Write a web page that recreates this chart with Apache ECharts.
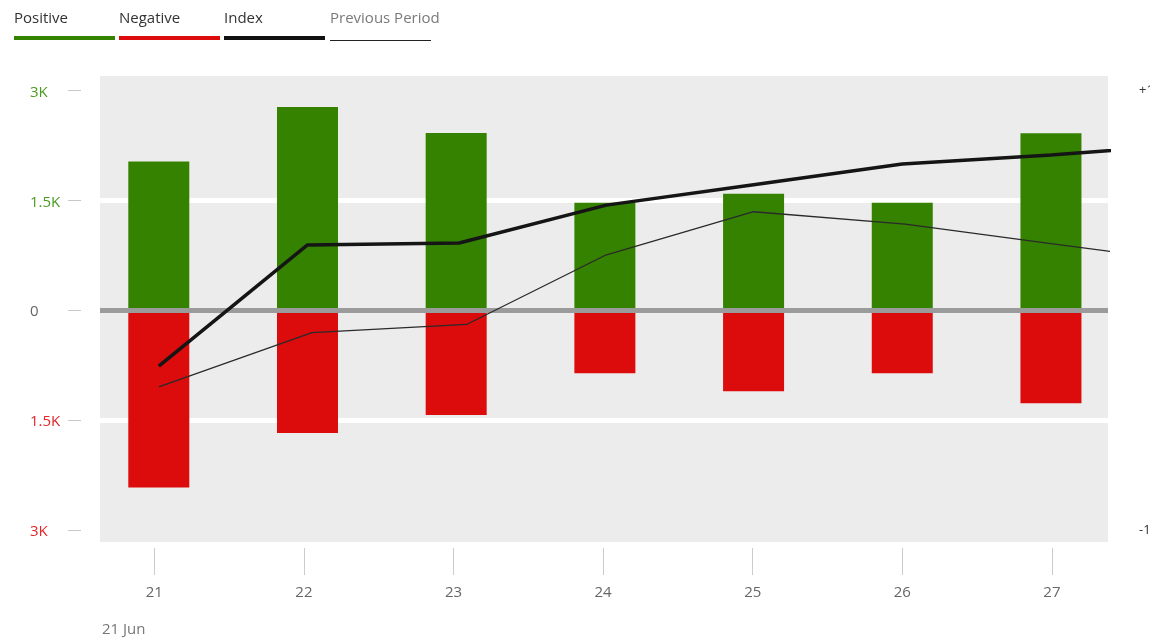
<!DOCTYPE html>
<html>
<head>
<meta charset="utf-8">
<script src="https://cdn.jsdelivr.net/npm/echarts@6/dist/echarts.min.js"></script>
<style>
html,body{margin:0;padding:0;background:#fff;}
#chart{width:1150px;height:638px;}
</style>
</head>
<body>
<div id="chart"></div>
<script>
// ---- data ----
const days = [21, 22, 23, 24, 25, 26, 27];
const dayLabels = ['21', '22', '23', '24', '25', '26', '27'];
const periodLabel = '21 Jun';
const positive = [2031, 2773, 2418, 1466, 1589, 1466, 2414];
const negative = [-2422, -1676, -1430, -861, -1106, -861, -1270];
const indexDays = [21, 22, 23.02, 24.01, 25, 26, 27, 28];
const indexValues = [-0.255, 0.297, 0.306, 0.478, 0.571, 0.665, 0.706, 0.757];
const prevDays = [21, 22.03, 23.07, 24, 25, 26.02, 27, 28];
const prevValues = [-0.349, -0.102, -0.065, 0.249, 0.448, 0.392, 0.303, 0.214];
const leftTicks = [-3000, -1500, 0, 1500, 3000];
const rightTicks = [-1, 1];
const legendNames = ['Positive', 'Negative', 'Index', 'Previous Period'];

const FONT = '"Open Sans", "Noto Sans", sans-serif';
const GREEN = '#348200';
const RED = '#dc0c0c';

const chart = echarts.init(document.getElementById('chart'), null, {renderer: 'canvas'});

function kLabel(v) {
  if (v === 0) return '{z|0}';
  const t = (Math.abs(v) / 1000) + 'K';
  return v > 0 ? '{g|' + t + '}' : '{r|' + t + '}';
}

const legendColors = [GREEN, RED, '#111111', '#222222'];
const legendX = [14, 119, 224, 330];
const graphics = [];
legendNames.forEach((n, i) => {
  graphics.push({
    type: 'text', left: legendX[i], top: 11,
    style: {text: n, fill: i === 3 ? '#7a7a7a' : '#333', font: '15px ' + FONT}
  });
  graphics.push({
    type: 'rect', left: legendX[i], top: i === 3 ? 40 : 36,
    shape: {width: 101, height: i === 3 ? 1 : 4},
    style: {fill: legendColors[i]}
  });
});
graphics.push({
  type: 'text', left: 102, top: 622,
  style: {text: periodLabel, fill: '#777', font: '15px ' + FONT}
});

const option = {
  animation: false,
  backgroundColor: '#fff',
  textStyle: {fontFamily: FONT},
  graphic: graphics,
  grid: {
    left: 100, right: 42, top: 76, bottom: 96,
    outerBoundsMode: 'none', containLabel: false,
    show: true, backgroundColor: '#ececec', borderWidth: 0
  },
  xAxis: [
    {
      type: 'value', min: 20.637, max: 27.375, offset: 6, position: 'bottom',
      axisLine: {show: true, onZero: false, lineStyle: {color: 'rgba(0,0,0,0)'}},
      axisTick: {show: true, customValues: days, length: 27, lineStyle: {color: '#cccccc', width: 1}},
      axisLabel: {customValues: days, margin: 37, color: '#666', fontSize: 15, fontFamily: FONT,
        formatter: v => dayLabels[days.indexOf(v)]},
      splitLine: {show: false}
    },
    {
      type: 'value', min: 20.6046, max: 27.3836, show: false, position: 'top',
      axisLine: {onZero: false},
      splitLine: {show: false}
    }
  ],
  yAxis: [
    {
      type: 'value', min: -3165, max: 3197, offset: 19,
      axisLine: {show: false},
      axisTick: {show: true, customValues: leftTicks, length: 13, lineStyle: {color: '#c8c8c8', width: 1}},
      axisLabel: {
        customValues: leftTicks, margin: 51, align: 'left', padding: [4, 0, 0, 0],
        formatter: kLabel,
        rich: {
          g: {color: '#4c9a22', fontSize: 15, fontFamily: FONT},
          r: {color: '#e4262b', fontSize: 15, fontFamily: FONT},
          z: {color: '#666', fontSize: 15, fontFamily: FONT}
        }
      },
      splitLine: {show: false}
    },
    {
      type: 'value', min: -1.055, max: 1.0657, position: 'right',
      axisLine: {show: false},
      axisTick: {show: false},
      axisLabel: {customValues: rightTicks, margin: 31, align: 'left', color: '#333', fontSize: 13,
        fontFamily: FONT, formatter: v => (v > 0 ? '+1' : '-1')},
      splitLine: {show: false}
    }
  ],
  series: [
    {
      name: 'grid', type: 'line', xAxisIndex: 1, yAxisIndex: 0, data: [], silent: true,
      markLine: {
        z: 1, silent: true, symbol: 'none', label: {show: false},
        lineStyle: {color: '#ffffff', width: 5, type: 'solid'},
        data: [{yAxis: 1500}, {yAxis: -1500}]
      }
    },
    {
      name: 'Positive', type: 'bar', xAxisIndex: 1, yAxisIndex: 0, stack: 'pn', barWidth: 61, z: 2,
      itemStyle: {color: GREEN},
      data: days.map((d, i) => [d, positive[i]])
    },
    {
      name: 'Negative', type: 'bar', xAxisIndex: 1, yAxisIndex: 0, stack: 'pn', barWidth: 61, z: 2,
      itemStyle: {color: RED},
      data: days.map((d, i) => [d, negative[i]])
    },
    {
      name: 'zero', type: 'line', xAxisIndex: 1, yAxisIndex: 0, data: [], silent: true,
      markLine: {
        z: 3, silent: true, symbol: 'none', label: {show: false},
        lineStyle: {color: '#9b9b9b', width: 5, type: 'solid'},
        data: [{yAxis: 0}]
      }
    },
    {
      name: 'Previous Period', type: 'line', xAxisIndex: 1, yAxisIndex: 1, z: 4,
      showSymbol: false, symbol: 'none', clip: true,
      lineStyle: {color: '#2a2a2a', width: 1.3},
      data: prevDays.map((d, i) => [d, prevValues[i]])
    },
    {
      name: 'Index', type: 'line', xAxisIndex: 1, yAxisIndex: 1, z: 5,
      showSymbol: false, symbol: 'none', clip: true,
      lineStyle: {color: '#151515', width: 3.5},
      data: indexDays.map((d, i) => [d, indexValues[i]])
    }
  ]
};
chart.setOption(option);
</script>
</body>
</html>
